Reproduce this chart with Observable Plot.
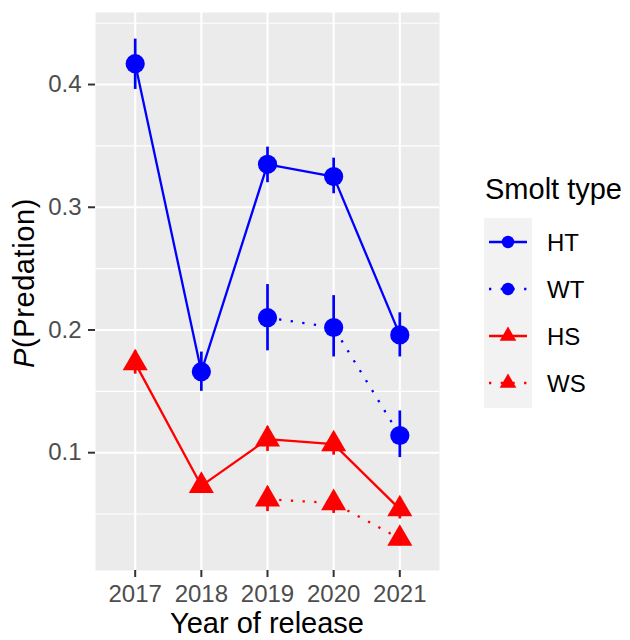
<!DOCTYPE html>
<html><head><meta charset="utf-8">
<script src="https://cdn.jsdelivr.net/npm/d3@7"></script>
<script src="https://cdn.jsdelivr.net/npm/@observablehq/plot@0.6"></script>
<style>body{margin:0;background:#fff;}</style>
</head><body><div id="chart"></div>
<script>
const years = [2017, 2018, 2019, 2020, 2021];
const yTicks = [0.1, 0.2, 0.3, 0.4];
const yMinor = [0.05, 0.15, 0.25, 0.35, 0.45];
const seriesNames = ["HT", "WT", "HS", "WS"];

const htYears = [2017, 2018, 2019, 2020, 2021];
const htP  = [0.417, 0.166, 0.335, 0.325, 0.196];
const htLo = [0.396, 0.150, 0.320, 0.311, 0.178];
const htHi = [0.437, 0.182, 0.349, 0.340, 0.214];

const wtYears = [2019, 2020, 2021];
const wtP  = [0.210, 0.202, 0.114];
const wtLo = [0.183, 0.178, 0.096];
const wtHi = [0.237, 0.228, 0.134];

const hsYears = [2017, 2018, 2019, 2020, 2021];
const hsP  = [0.173, 0.073, 0.111, 0.107, 0.054];
const hsLo = [0.164, 0.067, 0.101, 0.098, 0.046];
const hsHi = [0.183, 0.080, 0.121, 0.116, 0.063];

const wsYears = [2019, 2020, 2021];
const wsP  = [0.062, 0.059, 0.030];
const wsLo = [0.052, 0.0505, 0.024];
const wsHi = [0.072, 0.068, 0.036];

const FONT = "'Liberation Sans', Arial, Helvetica, sans-serif";
const styles = {
  HT: {color: "#0000FF", dash: null, symbol: "circle"},
  WT: {color: "#0000FF", dash: "2.3,9.4", symbol: "circle"},
  HS: {color: "#FF0000", dash: null, symbol: "triangle"},
  WS: {color: "#FF0000", dash: "2.3,9.4", symbol: "triangle"}
};
const raw = {
  HT: [htYears, htP, htLo, htHi],
  WT: [wtYears, wtP, wtLo, wtHi],
  HS: [hsYears, hsP, hsLo, hsHi],
  WS: [wsYears, wsP, wsLo, wsHi]
};
const rows = {};
for (const s of seriesNames) {
  const [ys, p, lo, hi] = raw[s];
  rows[s] = ys.map((y, i) => ({type: s, year: y, p: p[i], lo: lo[i], hi: hi[i], color: styles[s].color}));
}
const all = seriesNames.flatMap(s => rows[s]);

const marks = [
  Plot.frame({fill: "#EBEBEB", stroke: "none"}),
  Plot.gridY(yMinor, {stroke: "white", strokeOpacity: 1, strokeWidth: 1.1}),
  Plot.gridY(yTicks, {stroke: "white", strokeOpacity: 1, strokeWidth: 2.1}),
  Plot.gridX(years, {stroke: "white", strokeOpacity: 1, strokeWidth: 2.1})
];
for (const s of seriesNames) {
  marks.push(Plot.line(rows[s], {x: "year", y: "p", stroke: styles[s].color, strokeWidth: 2.3,
    strokeDasharray: styles[s].dash, strokeLinecap: "butt", strokeLinejoin: "round"}));
}
marks.push(Plot.ruleX(all, {x: "year", y1: "lo", y2: "hi", stroke: "color", strokeWidth: 2.7}));
for (const s of seriesNames) {
  marks.push(Plot.dot(rows[s], {x: "year", y: "p", fill: styles[s].color, stroke: "none",
    symbol: styles[s].symbol, r: styles[s].symbol === "circle" ? 9.6 : 9.3}));
}
marks.push(
  Plot.axisX(years, {tickSize: 7, tickPadding: 7, fontSize: 24, color: "#4D4D4D", stroke: "#333333",
    strokeWidth: 2, tickFormat: d => String(d), label: null}),
  Plot.axisY(yTicks, {tickSize: 7, tickPadding: 7, fontSize: 24, color: "#4D4D4D", stroke: "#333333",
    strokeWidth: 2, tickFormat: d => d.toFixed(1), label: null})
);

const svg = Plot.plot({
  width: 630, height: 640,
  marginLeft: 95, marginRight: 191, marginTop: 12, marginBottom: 70,
  style: {fontFamily: FONT, background: "white"},
  x: {type: "linear", domain: [2016.4, 2021.6]},
  y: {domain: [0.004, 0.4587]},
  color: {type: "identity"},
  marks
});

const g = d3.select(svg);
// axis titles
g.append("text").attr("x", 267).attr("y", 633).attr("text-anchor", "middle")
  .attr("font-size", 29).attr("font-family", FONT).attr("fill", "black").text("Year of release");
const yl = g.append("text").attr("transform", "translate(34,283) rotate(-90)").attr("text-anchor", "middle")
  .attr("font-size", 29).attr("font-family", FONT).attr("fill", "black").attr("letter-spacing", 0.6);
yl.append("tspan").attr("font-style", "italic").text("P");
yl.append("tspan").text("(Predation)");

// legend
const lg = g.append("g").attr("text-anchor", "start");
lg.append("text").attr("x", 485).attr("y", 199).attr("text-anchor", "start").attr("font-size", 29)
  .attr("font-family", FONT).attr("fill", "black").text("Smolt type");
lg.append("rect").attr("x", 484).attr("y", 218).attr("width", 48).attr("height", 190).attr("fill", "#F2F2F2");
seriesNames.forEach((s, i) => {
  const cy = 242 + i * 47;
  const st = styles[s];
  lg.append("line").attr("x1", 489).attr("x2", 527).attr("y1", cy).attr("y2", cy)
    .attr("stroke", st.color).attr("stroke-width", 2.3)
    .attr("stroke-dasharray", st.dash ? st.dash : null);
  if (st.symbol === "circle") {
    lg.append("circle").attr("cx", 508).attr("cy", cy).attr("r", 6.2).attr("fill", st.color);
  } else {
    lg.append("path").attr("transform", `translate(508,${cy})`)
      .attr("d", d3.symbol(d3.symbolTriangle, 120)()).attr("fill", st.color);
  }
  lg.append("text").attr("x", 547).attr("y", cy).attr("dy", "0.36em").attr("text-anchor", "start")
    .attr("font-size", 24).attr("font-family", FONT).attr("fill", "black").text(s);
});

document.getElementById("chart").appendChild(svg);
</script>
</body></html>
